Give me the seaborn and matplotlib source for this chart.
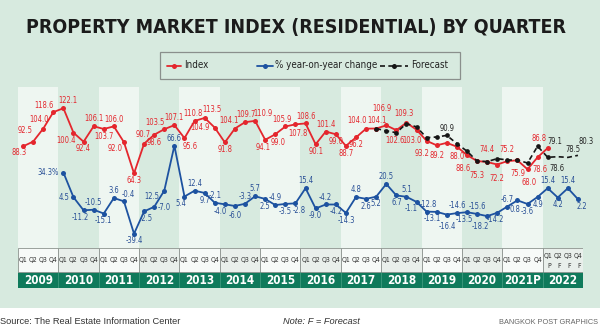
import numpy as np
import pandas as pd
import matplotlib
matplotlib.use("Agg")
import matplotlib.pyplot as plt
from matplotlib import font_manager
import seaborn as sns
from matplotlib.patches import Rectangle

# ---------------- data ----------------
years = ["2009", "2010", "2011", "2012", "2013", "2014", "2015",
         "2016", "2017", "2018", "2019", "2020", "2021P", "2022"]
quarters = ["Q1", "Q2", "Q3", "Q4"]
status_2022 = ["P", "F", "F", "F"]

# Index, 2009 Q1 .. 2022 Q1 (P)
index_values = [88.3, 92.5, 104.0, 118.6,
                122.1, 100.4, 92.4, 106.1,
                103.7, 106.0, 92.0, 64.3,
                90.7, 98.6, 103.5, 107.1,
                95.6, 110.8, 113.5, 104.9,
                91.8, 104.1, 109.7, 110.9,
                94.1, 99.0, 105.9, 107.8,
                108.6, 90.1, 101.4, 99.0,
                88.7, 96.2, 104.0, 104.1,
                106.9, 102.6, 109.3, 103.0,
                93.2, 89.2, 91.4, 88.0,
                80.6, 75.3, 74.4, 72.2,
                75.2, 75.9, 68.0, 78.6,
                86.8]
# % year-on-year change, 2010 Q1 .. 2022 Q4
yoy_values = [34.3, 4.5, -11.2, -10.5,
              -15.1, 3.6, -0.4, -39.4,
              -12.5, -7.0, 12.5, 66.6,
              5.4, 12.4, 9.7, -2.1,
              -4.0, -6.0, -3.3, 5.7,
              2.5, -4.9, -3.5, -2.8,
              15.4, -9.0, -4.2, -4.2,
              -14.3, 4.8, 2.6, 5.2,
              20.5, 6.7, 5.1, -1.1,
              -12.8, -13.1, -16.4, -14.6,
              -13.5, -15.6, -18.2, -14.2,
              -6.7, 0.8, -3.6, 4.9,
              15.4, 4.2, 15.4, 2.2]
# Forecast, 2017 Q4 .. 2022 Q4
forecast_values = [104.1,
                   102.0, 100.4, 108.5, 105.5,
                   96.0, 96.6, 98.0, 90.7,
                   84.0, 75.3, 74.8, 77.4,
                   76.2, 76.2, 73.5, 88.4,
                   78.6, 79.1, 78.5, 80.3]

# label texts as printed on the graphic (where they differ from the value format)
index_label_text = {44: "88.6"}
yoy_label_text = {0: "34.3%", 8: "-2.5", 9: "12.5", 10: "-7.0"}
forecast_label_text = {7: "90.9", 17: "78.6", 18: "79.1", 19: "78.5", 20: "80.3"}

# ---------------- label placement (style only, offsets in points) ----------------
CODES = {"a": (0, 2.0, "center", "bottom"), "b": (0, -2.0, "center", "top"),
         "al": (-2.5, 1.8, "center", "bottom"), "bl": (-2.5, -1.8, "center", "top"),
         "ar": (3.0, 1.8, "center", "bottom"), "br": (3.0, -1.8, "center", "top"),
         "l": (-3, 0, "right", "center"), "r": (3, 0, "left", "center")}

index_pos = ["bl", "al", "al", "al", "a", "b", "b", "a", "b", "a", "bl", "b",
             "al", "b", "al", "a", "b", "al", "a", "bl", "b", "al", "a", "a",
             "b", "b", "al", "b", "a", "b", "a", "b", "b", "b", "al", "a",
             "a", "b", "a", "b", "b", "b", None, "b", "bl", "b", "a", "b",
             "a", "b", "b", "b", "al"]
index_pos_custom = {
    0: (-3, -1.2, "center", "top"), 1: (-5.5, 5, "center", "bottom"),
    2: (-3, 3.5, "center", "bottom"), 3: (-6.5, 1.5, "center", "bottom"),
    4: (3, 2.5, "center", "bottom"), 5: (-5, -2.2, "center", "top"),
    10: (-6, -1, "center", "top"), 12: (-1, 3, "center", "bottom"),
    14: (-7, 1.5, "center", "bottom"), 16: (4, -2.5, "center", "top"),
    17: (-1, 2, "center", "bottom"), 18: (5, 2.5, "center", "bottom"),
    19: (-3.5, 0, "right", "center"),
    21: (-4.5, 2.2, "center", "bottom"), 22: (0.5, 2.2, "center", "bottom"),
    23: (5.5, 2.2, "center", "bottom"),
    24: (-1.8, -2, "center", "top"), 25: (2.4, -2.5, "center", "top"),
    27: (1.5, -3, "center", "top"),
    34: (-6.5, 2.5, "center", "bottom"), 35: (0.5, 2.5, "center", "bottom"),
    36: (-3, 9, "center", "bottom"), 37: (-1, -4.5, "center", "top"),
    38: (-2, 3.5, "center", "bottom"), 39: (-3, -4.5, "center", "top"),
    40: (-3, -6, "center", "top"), 41: (0, -4, "center", "top"),
    43: (0, -4, "center", "top"), 44: (-3, -6.5, "center", "top"),
    45: (0, -7, "center", "top"), 46: (0, 5.5, "center", "bottom"),
    47: (0, -6.5, "center", "top"), 48: (0, 5, "center", "bottom"),
    49: (0, -6.5, "center", "top"), 50: (1, -6, "center", "top"),
    51: (2, -5.5, "center", "top"), 52: (-6, 3.5, "center", "bottom"),
}
yoy_pos = ["l", "l", "bl", "a", "b", "a", "ar", "b",
           "br", "a", "b", "a", "bl", "a", "b", "a",
           "b", "b", "a", "a", "b", "a", "b", "br",
           "a", "b", "a", "b", "b", "a", "b", "b",
           "a", "b", "a", "b", "a", "bl", "b", "a",
           "b", "a", "b", "b", "a", "b", "b", "b",
           "a", "b", "a", "br"]
yoy_pos_custom = {8: (1.5, -2, "center", "top"), 9: (-1.5, 4, "center", "bottom"),
                  10: (0, -9, "center", "top"),
                  16: (-3, -2, "center", "top"), 17: (0.5, -3.5, "center", "top"),
                  35: (-3.5, -1.5, "center", "top"), 36: (1.5, 2, "center", "bottom"),
                  37: (-3, -1.5, "center", "top"), 38: (0.5, -5, "center", "top"),
                  40: (-2, -2, "center", "top"), 42: (-5, -4.5, "center", "top"),
                  43: (-1, -1.5, "center", "top"), 45: (-2, -3, "center", "top")}
forecast_pos = {7: "a"}
forecast_pos_custom = {17: (6.5, -5, "center", "top"), 18: (-2, 8, "center", "bottom"),
                       19: (3.6, 2.5, "center", "bottom"), 20: (5.8, 7, "center", "bottom")}

# ---------------- styling ----------------
BG = "#d7eadf"
BAND = "#eef6f1"
RED = "#e4262d"
BLUE = "#1d52a0"
BLACK = "#151515"
GREEN = "#0f7a5b"

sns.set_theme(style="white")

fonts = font_manager.fontManager.ttflist
names = {f.name for f in fonts}
has_dv_cond = any(f.name == "DejaVu Sans" and f.stretch == "condensed" for f in fonts)
if "Liberation Sans Narrow" in names:
    NARROW, STRETCH, SCALE = ["Liberation Sans Narrow", "DejaVu Sans"], "normal", 1.0
elif has_dv_cond:
    NARROW, STRETCH, SCALE = ["DejaVu Sans", "Liberation Sans"], "condensed", 0.95
else:
    NARROW, STRETCH, SCALE = ["Liberation Sans", "DejaVu Sans"], "normal", 0.86
plt.rcParams["font.family"] = NARROW
plt.rcParams["font.stretch"] = STRETCH
REG = ["Liberation Sans", "DejaVu Sans"]

W, H = 600, 330
fig = plt.figure(figsize=(W / 100, H / 100), dpi=100, facecolor=BG)

# overlay in pixel coordinates for background pieces, title, legend, footer
ov = fig.add_axes([0, 0, 1, 1], zorder=-5)
ov.set_xlim(0, W)
ov.set_ylim(H, 0)
ov.axis("off")
ov.add_patch(Rectangle((0, 308), W, 22, facecolor="white", edgecolor="none"))

# plot area
L, R, T, B = 18, 583, 87, 248
ax = fig.add_axes([L / W, 1 - B / H, (R - L) / W, (B - T) / H])
ax.set_facecolor("none")
nq = len(years) * 4
ax.set_xlim(-0.5, nq - 0.5)
ax.set_ylim(-1.8, 140.9)
for k in range(len(years)):
    if k % 2 == 0:
        ax.axvspan(4 * k - 0.5, 4 * k + 3.5, color=BAND, lw=0, zorder=0)
ax.axis("off")

ax2 = ax.twinx()
ax2.set_facecolor("none")
ax2.set_ylim(-56.6, 137.3)
ax2.axis("off")

df_index = pd.DataFrame({"q": np.arange(len(index_values)), "v": index_values})
df_yoy = pd.DataFrame({"q": np.arange(4, 4 + len(yoy_values)), "v": yoy_values})
df_fc = pd.DataFrame({"q": np.arange(35, 35 + len(forecast_values)), "v": forecast_values})

sns.lineplot(data=df_index, x="q", y="v", ax=ax, color=RED, lw=1.3,
             marker="o", markersize=3.6, markeredgewidth=0, zorder=3)
sns.lineplot(data=df_fc, x="q", y="v", ax=ax, color=BLACK, lw=1.2,
             linestyle=(0, (3, 2)), marker="o", markersize=3.4,
             markeredgewidth=0, markevery=list(range(0, 18)), zorder=4)
sns.lineplot(data=df_yoy, x="q", y="v", ax=ax2, color=BLUE, lw=1.3,
             marker="o", markersize=3.6, markeredgewidth=0, zorder=3)
for a in (ax, ax2):
    a.set_xlim(-0.5, nq - 0.5)
    a.axis("off")
    if a.get_legend():
        a.get_legend().remove()

LAB = 5.7 * SCALE


def put_labels(axis, xs, vals, poss, custom, texts, color):
    for i, (x, v) in enumerate(zip(xs, vals)):
        if i in custom:
            dx, dy, ha, va = custom[i]
        else:
            p = poss[i] if isinstance(poss, list) else poss.get(i)
            if p is None:
                continue
            dx, dy, ha, va = CODES[p]
        axis.annotate(texts.get(i, f"{v:.1f}"), (x, v), xytext=(dx, dy),
                      textcoords="offset points", ha=ha, va=va,
                      fontsize=LAB, color=color, family=NARROW,
                      fontstretch=STRETCH, clip_on=False, zorder=6)


put_labels(ax, df_index["q"], index_values, index_pos, index_pos_custom,
           index_label_text, RED)
put_labels(ax2, df_yoy["q"], yoy_values, yoy_pos, yoy_pos_custom,
           yoy_label_text, "#284f96")
put_labels(ax, df_fc["q"], forecast_values, forecast_pos, forecast_pos_custom,
           forecast_label_text, "#222222")

# quarter / year rows
axq = fig.add_axes([L / W, 1 - 288 / H, (R - L) / W, 40 / H])
axq.set_xlim(-0.5, nq - 0.5)
axq.set_ylim(0, 40)
axq.axis("off")
axq.add_patch(Rectangle((-0.5, 0), nq, 16, facecolor=GREEN, edgecolor="none"))
for k, yr in enumerate(years):
    x0 = 4 * k - 0.5
    axq.add_patch(Rectangle((x0, 16), 4, 24,
                            facecolor="#f7faf8" if k % 2 == 0 else "#e9efeb",
                            edgecolor="#8e9490", lw=0.6))
    if k > 0:
        axq.plot([x0, x0], [0, 16], color="#3f9a7e", lw=0.6)
    axq.text(4 * k + 1.5, 8, yr, ha="center", va="center", color="white",
             fontsize=8.8 * SCALE, fontweight="bold", family=NARROW, fontstretch=STRETCH)
    for j, qn in enumerate(quarters):
        ylab = 32 if yr == "2022" else 28
        axq.text(4 * k + j, ylab, qn, ha="center", va="center",
                 fontsize=5.2 * SCALE, color="#333333", family=NARROW, fontstretch=STRETCH)
        if yr == "2022":
            axq.text(4 * k + j + 0.15, 21.5, status_2022[j], ha="center",
                     va="center", fontsize=5.2 * SCALE, color="#333333",
                     family=NARROW, fontstretch=STRETCH)

# title
title = ov.text(296, 28, "PROPERTY MARKET INDEX (RESIDENTIAL) BY QUARTER",
                ha="center", va="center", fontsize=18, fontweight="bold",
                color="#1b1b1b", family=NARROW, fontstretch=STRETCH)
fig.canvas.draw()
bb = title.get_window_extent()
title.set_fontsize(min(18 * 538 / bb.width, 19))

# legend
ov.add_patch(Rectangle((160, 52), 300, 27, facecolor="none",
                       edgecolor="#8a8f8c", lw=0.9))
ly = 65.5
LEG = 7.4 * SCALE
ov.plot([167, 181], [ly, ly], color=RED, lw=1.3)
ov.plot([174], [ly], "o", color=RED, ms=3.6, mew=0)
ov.text(184, ly, "Index", va="center", ha="left", fontsize=LEG, color="#222")
ov.plot([257, 273], [ly, ly], color=BLUE, lw=1.3)
ov.plot([265], [ly], "o", color=BLUE, ms=3.6, mew=0)
ov.text(275, ly, "% year-on-year change", va="center", ha="left",
        fontsize=LEG, color="#222")
ov.plot([380, 408], [ly, ly], color=BLACK, lw=1.2, linestyle=(0, (3, 2)))
ov.plot([394], [ly], "o", color=BLACK, ms=3.6, mew=0)
ov.text(411, ly, "Forecast", va="center", ha="left", fontsize=LEG, color="#222")

# footer
ov.text(0, 322, "Source: The Real Estate Information Center", ha="left",
        va="center", fontsize=6.7, color="#333333", family=REG, fontstretch="normal")
ov.text(283, 322, "Note: F = Forecast", ha="left", va="center", fontsize=6.7,
        color="#333333", style="italic", family=REG, fontstretch="normal")
ov.text(598, 322, "BANGKOK POST GRAPHICS", ha="right", va="center",
        fontsize=5.3, color="#666666", family=REG, fontstretch="normal")

fig.savefig("out.png", dpi=100, facecolor=BG)
